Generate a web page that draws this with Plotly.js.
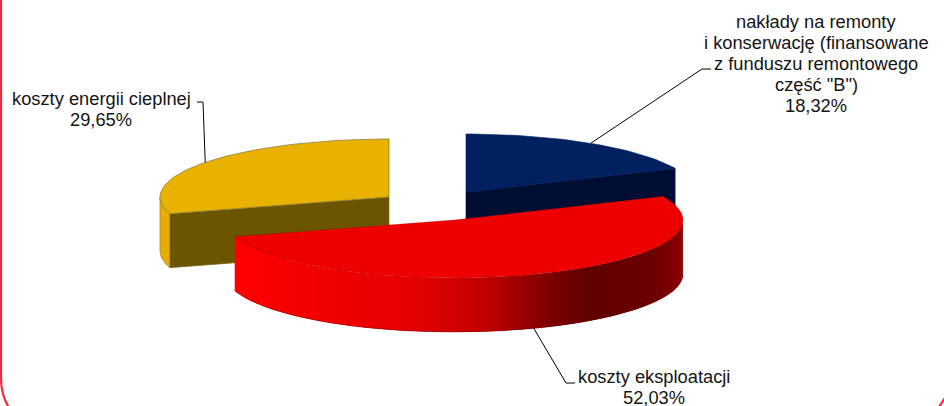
<!DOCTYPE html>
<html>
<head>
<meta charset="utf-8">
<script src="https://cdn.plot.ly/plotly-3.0.1.min.js"></script>
<style>html,body{margin:0;padding:0;background:#fff}#chart{width:944px;height:406px}</style>
</head>
<body>
<div id="chart"></div>
<script>
// Shares of the cost structure, in percent
const categories = [
  ['nakłady na remonty', 'i konserwację (finansowane', 'z funduszu remontowego', 'część "B")'],
  ['koszty eksploatacji'],
  ['koszty energii cieplnej']
];
const shares = [18.32, 52.03, 29.65];
const shareLabels = ['18,32%', '52,03%', '29,65%'];

// Tilted-disc projection
const RX = 229, RY = 58, DEPTH = 54;
const sliceCentres = [[466, 192], [454, 220], [389, 197]];
const topColours = ['#002060', '#ee0000', '#eab200'];
const cutColours = ['#000e34', '#a00000', '#6b5500'];
const labelCentres = [[816, 21.5], [654, 376], [101, 98]];
const LINE_PITCH = 21;
const leaderElbows = [[[702, 69], [711, 69]], [[566, 383], [575, 383]], [[203, 102], [197, 102]]];
const redRamp = [[235, [255, 0, 0]], [330, [240, 0, 0]], [420, [225, 0, 0]], [480, [195, 0, 0]], [533, [138, 0, 0]], [585, [96, 0, 0]], [650, [108, 0, 0]], [684, [140, 0, 0]]];
const yellowRim = '#e6ad00';
const STEP = 2, WALL_STEP = 1;

const rad = d => d * Math.PI / 180;
const rimPoint = (c, deg, drop) => [c[0] + RX * Math.sin(rad(deg)), c[1] - RY * Math.cos(rad(deg)) + (drop || 0)];

function arc(c, from, to, drop) {
  const pts = [];
  const n = Math.max(2, Math.ceil(Math.abs(to - from) / STEP));
  for (let i = 0; i <= n; i++) pts.push(rimPoint(c, from + (to - from) * i / n, drop));
  return pts;
}

function polygon(pts, fill, lineColour, lineWidth) {
  return {
    type: 'scatter', mode: 'lines', x: pts.map(p => p[0]), y: pts.map(p => p[1]),
    fill: 'toself', fillcolor: fill, hoverinfo: 'skip', showlegend: false,
    line: {color: lineColour || fill, width: lineWidth === undefined ? 0.6 : lineWidth}
  };
}

function outline(pts, colour, width) {
  return {
    type: 'scatter', mode: 'lines', x: pts.map(p => p[0]), y: pts.map(p => p[1]),
    line: {color: colour, width: width}, hoverinfo: 'skip', showlegend: false
  };
}

function rampColour(x) {
  let i = 0;
  while (i < redRamp.length - 2 && x > redRamp[i + 1][0]) i++;
  const [x0, a] = redRamp[i], [x1, b] = redRamp[i + 1];
  const t = Math.min(1, Math.max(0, (x - x0) / (x1 - x0)));
  const m = a.map((v, k) => Math.round(v + (b[k] - v) * t));
  return `rgb(${m.join(',')})`;
}

// Slice boundaries from the shares, clockwise from twelve o'clock
const angles = [];
shares.reduce((sum, v, i) => { angles[i] = [sum * 3.6, (sum + v) * 3.6]; return sum + v; }, 0);

const traces = [];

// Yellow slice: cut face, short rim wall, top
(function () {
  const c = sliceCentres[2], [a0] = angles[2];
  const corner = rimPoint(c, a0), low = rimPoint(c, a0, DEPTH);
  traces.push(polygon([c, corner, low, [c[0], c[1] + DEPTH], c], cutColours[2], '#7d6a1e', 0.7));
  const wall = arc(c, a0, 270, 0).concat(arc(c, 270, a0, DEPTH));
  traces.push(polygon(wall.concat([wall[0]]), yellowRim, '#9a8430', 0.7));
  const top = [c].concat(arc(c, a0, 360)).concat([c]);
  traces.push(polygon(top, topColours[2], '#8f7f40', 0.8));
})();

// Navy slice: cut face and top
(function () {
  const c = sliceCentres[0], [a0, a1] = angles[0];
  const corner = rimPoint(c, a1);
  traces.push(polygon([c, corner, [corner[0], corner[1] + DEPTH], [c[0], c[1] + DEPTH], c], cutColours[0]));
  traces.push(polygon([c].concat(arc(c, a0, a1)).concat([c]), topColours[0]));
})();

// Red slice: the wall is painted as overlapping narrow strips so no seams appear, then the top
(function () {
  const c = sliceCentres[1], [a0, a1] = angles[1];
  const wallFrom = Math.max(a0, 90);
  for (let d = wallFrom; d < a1; d += WALL_STEP) {
    const e = Math.min(a1, d + WALL_STEP);
    const far = Math.max(wallFrom, d - WALL_STEP);
    const p = rimPoint(c, far), q = rimPoint(c, e);
    const strip = [p, q, rimPoint(c, e, DEPTH), rimPoint(c, far, DEPTH), p];
    const colour = rampColour(rimPoint(c, (d + e) / 2)[0]);
    traces.push(Object.assign(polygon(strip, colour), {line: {width: 0}}));
  }
  traces.push(outline(arc(c, wallFrom, a1, DEPTH), 'rgba(110,0,0,0.5)', 0.8));
  traces.push(polygon([c].concat(arc(c, a0, a1)).concat([c]), topColours[1], 'rgba(150,0,0,0.4)', 0.6));
})();

// Leader lines from the middle of each slice to its label
shares.forEach((v, i) => {
  const mid = (angles[i][0] + angles[i][1]) / 2;
  const start = rimPoint(sliceCentres[i], mid, i === 1 ? DEPTH : 0);
  traces.push(outline([start].concat(leaderElbows[i]), '#000', 1));
});

// Each label line is placed on its own so the line pitch stays tight
const annotations = [];
categories.forEach((lines, i) => {
  lines.concat(shareLabels[i]).forEach((text, row) => {
    annotations.push({
      xref: 'x', yref: 'y', x: labelCentres[i][0], y: labelCentres[i][1] + row * LINE_PITCH,
      xanchor: 'center', yanchor: 'middle', align: 'center', showarrow: false,
      text, borderpad: 0,
      font: {family: '"Liberation Sans", Arial, sans-serif', size: 18.3, color: '#151515'}
    });
  });
});

const layout = {
  width: 944, height: 406,
  margin: {l: 0, r: 0, t: 0, b: 0},
  paper_bgcolor: '#fff', plot_bgcolor: '#fff',
  showlegend: false,
  xaxis: {range: [0, 944], visible: false, fixedrange: true},
  yaxis: {range: [406, 0], visible: false, fixedrange: true},
  annotations,
  shapes: [{
    type: 'path', xref: 'x', yref: 'y',
    path: 'M 1 -10 L 1 378 Q 1 398 12 412 M 935 412 Q 940 406 946 396',
    line: {color: '#f5283c', width: 2.2}
  }]
};

Plotly.newPlot('chart', traces, layout, {displayModeBar: false, staticPlot: true});
</script>
</body>
</html>
